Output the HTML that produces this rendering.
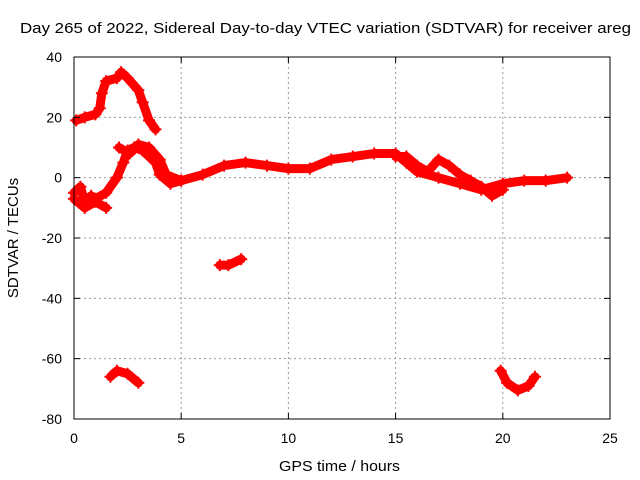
<!DOCTYPE html>
<html><head><meta charset="utf-8"><style>
body{margin:0;background:#fff}
svg{display:block;font-family:"Liberation Sans",sans-serif}
</style></head><body>
<svg id="chart" width="640" height="480">
<text x="20" y="33" textLength="611" lengthAdjust="spacingAndGlyphs" font-size="15">Day 265 of 2022, Sidereal Day-to-day VTEC variation (SDTVAR) for receiver areg</text>
<g id="grid"></g>
<g id="series"></g>
<rect x="74" y="57" width="536" height="362" fill="none" stroke="#000"/>
<g id="axes"></g>
<text x="279" y="471" textLength="121" lengthAdjust="spacingAndGlyphs" font-size="15">GPS time / hours</text>
<text transform="translate(18,238) rotate(-90)" text-anchor="middle" font-size="15">SDTVAR / TECUs</text>
</svg>
<script>
const xTicks=[0,5,10,15,20,25];
const yTicks=[40,20,0,-20,-40,-60,-80];
const seriesUpperArc=[[0.1,19],[0.5,20],[1,21],[1.2,23],[1.3,28],[1.5,32],[2,33],[2.2,35],[2.5,33],[3,29],[3.2,25],[3.5,19],[3.8,16]];
const seriesMain=[[0,-5],[0.3,-3],[0.5,-8],[0.8,-6],[1,-7],[1.5,-5],[2,0],[2.3,5],[2.5,9],[2.8,10],[3.2,9],[3.8,5],[4,1],[4.5,-2],[5,-1],[6,1],[7,4],[8,5],[9,4],[10,3],[11,3],[12,6],[13,7],[14,8],[15,8],[15.5,5],[16,2],[17,0],[18,-2],[19,-4],[20,-2],[21,-1],[22,-1],[23,0]];
const seriesBranch=[[2.1,10],[2.6,8],[3,11],[3.5,10],[4,6],[4.3,1],[5,-1]];
const seriesLate=[[15,7],[15.5,7],[16,4],[16.5,2],[17,6],[17.5,4],[18,1],[18.5,-1],[19,-3],[19.5,-6],[20,-4]];
const seriesEarly=[[0,-7],[0.5,-10],[1,-8],[1.5,-10]];
const seriesMid=[[6.8,-29],[7.2,-29],[7.8,-27]];
const seriesLowLeft=[[1.7,-66],[2,-64],[2.5,-65],[3,-68]];
const seriesLowRight=[[19.9,-64],[20.2,-68],[20.7,-70.5],[21.2,-69],[21.5,-66]];
const allSeries=[seriesUpperArc,seriesMain,seriesBranch,seriesLate,seriesEarly,seriesMid,seriesLowLeft,seriesLowRight];
const X=v=>74+v*(536/25), Y=v=>57+(40-v)*(362/120);
const NS='http://www.w3.org/2000/svg';
function mk(t,a,p){const e=document.createElementNS(NS,t);for(const k in a)e.setAttribute(k,a[k]);p.appendChild(e);return e;}
const grid=document.getElementById('grid'),axes=document.getElementById('axes'),ser=document.getElementById('series');
xTicks.forEach(t=>{const x=X(t);
 if(t>0&&t<25){const l=mk('line',{x1:x,x2:x,y1:57,y2:419,stroke:'#999','stroke-dasharray':'2,3'},grid);}
 const k=mk('line',{x1:x,x2:x,y1:419,y2:413,stroke:'#000'},axes);
 const k2=mk('line',{x1:x,x2:x,y1:57,y2:63,stroke:'#000'},axes);
 const s=mk('text',{x:x,y:443,'text-anchor':'middle','font-size':14},axes);s.textContent=t;});
yTicks.forEach(t=>{const y=Y(t);
 if(t<40&&t>-80){const l=mk('line',{x1:74,x2:610,y1:y,y2:y,stroke:'#999','stroke-dasharray':'2,3'},grid);}
 const k=mk('line',{x1:74,x2:80,y1:y,y2:y,stroke:'#000'},axes);
 const k2=mk('line',{x1:604,x2:610,y1:y,y2:y,stroke:'#000'},axes);
 const s=mk('text',{x:62,y:y+5,'text-anchor':'end','font-size':14},axes);s.textContent=t;});
allSeries.forEach(d=>{
 const p=mk('polyline',{points:d.map(q=>X(q[0])+','+Y(q[1])).join(' '),fill:'none',stroke:'#f00','stroke-width':9,'stroke-linejoin':'round','stroke-linecap':'round'},ser);
 
 d.forEach(q=>{const x=X(q[0]),y=Y(q[1]);
  const m=mk('path',{d:`M${x-6},${y}H${x+6}M${x},${y-6}V${y+6}`,stroke:'#f00','stroke-width':2},ser);
  });
});
</script>
</body></html>
